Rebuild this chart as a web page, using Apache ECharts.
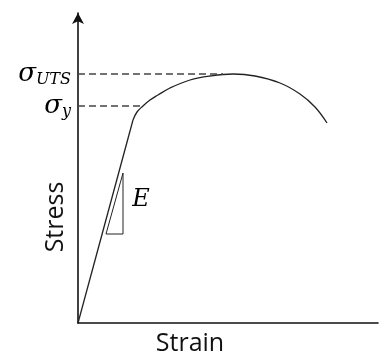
<!DOCTYPE html>
<html>
<head>
<meta charset="utf-8">
<script src="https://cdn.jsdelivr.net/npm/echarts@6/dist/echarts.min.js"></script>
<style>html,body{margin:0;padding:0;background:#fff;}#c{width:379px;height:354px;}</style>
</head>
<body>
<div id="c"></div>
<script>
// Elastic region (straight line from origin)
const elasticStrain = [0, 55];
const elasticStress = [0, 203];
// Plastic region (yield -> UTS -> fracture)
const plasticStrain = [55, 59, 65, 72, 80, 92, 112, 132, 155, 177, 202, 222, 237, 249];
const plasticStress = [203, 211, 217, 223, 228, 235, 243, 247, 249, 247, 240, 229, 216, 200];
// Reference levels
const yieldStress = 217;
const yieldStrain = 65;
const utsStress = 249;
const utsDashEnd = 145;
// Modulus triangle
const triStrain = [28, 45, 45, 28];
const triStress = [89, 89, 150, 89];
const eLabelPos = [63, 123];
const tickLabels = {217: 'y', 249: 'UTS'};

const zip = (a, b) => a.map((v, i) => [v, b[i]]);

const chart = echarts.init(document.getElementById('c'));
chart.setOption({
  animation: false,
  grid: {left: 78, right: 1, top: 13, bottom: 31, outerBoundsMode: 'none', containLabel: false},
  xAxis: {
    type: 'value', min: 0, max: 300,
    axisLine: {lineStyle: {color: '#111', width: 1.6}},
    axisTick: {show: false}, axisLabel: {show: false}, splitLine: {show: false},
    name: 'Strain', nameLocation: 'middle', nameGap: 8, nameMoveOverlap: false,
    nameTextStyle: {fontFamily: 'Open Sans', fontSize: 25, color: '#111', padding: [0, 76, 0, 0]}
  },
  yAxis: {
    type: 'value', min: 0, max: 310,
    axisLine: {lineStyle: {color: '#111', width: 1.6}, symbol: ['none', 'arrow'], symbolSize: [9, 11]},
    axisTick: {show: false}, splitLine: {show: false},
    axisLabel: {
      customValues: [yieldStress, utsStress], margin: 7,
      formatter: v => '{s|σ}{sub|' + tickLabels[v] + '}',
      rich: {
        s: {fontFamily: 'DejaVu Serif', fontStyle: 'italic', fontSize: 26, color: '#000'},
        sub: {fontFamily: 'DejaVu Serif', fontStyle: 'italic', fontSize: 16, color: '#000', padding: [11, 0, 0, 0]}
      }
    },
    name: 'Stress', nameLocation: 'middle', nameGap: 10, nameMoveOverlap: false,
    nameTextStyle: {fontFamily: 'Open Sans', fontSize: 25, color: '#111', padding: [0, 98, 0, 0]}
  },
  series: [
    {type: 'line', data: zip(elasticStrain, elasticStress), symbol: 'none', lineStyle: {color: '#222', width: 1.3}},
    {type: 'line', data: zip(plasticStrain, plasticStress), symbol: 'none', smooth: 0.4, lineStyle: {color: '#222', width: 1.3}},
    {type: 'line', data: [[0, utsStress], [utsDashEnd, utsStress]], symbol: 'none', lineStyle: {color: '#444', width: 1.5, type: [7, 4]}},
    {type: 'line', data: [[0, yieldStress], [yieldStrain, yieldStress]], symbol: 'none', lineStyle: {color: '#444', width: 1.5, type: [7, 4]}},
    {type: 'line', data: zip(triStrain, triStress), symbol: 'none', lineStyle: {color: '#222', width: 1}},
    {type: 'scatter', data: [eLabelPos], symbolSize: 0, itemStyle: {opacity: 1},
      label: {show: true, formatter: 'E', position: 'inside', opacity: 1, fontFamily: 'DejaVu Serif', fontStyle: 'italic', fontSize: 24, color: '#000'}}
  ]
});
</script>
</body>
</html>
